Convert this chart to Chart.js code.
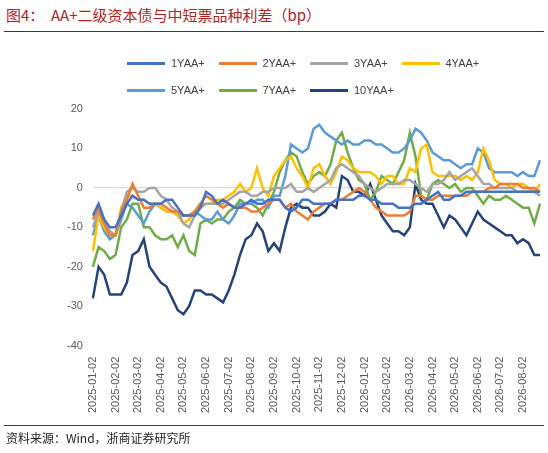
<!DOCTYPE html>
<html><head><meta charset="utf-8">
<script src="https://cdn.jsdelivr.net/npm/chart.js@4"></script>
<style>
body{margin:0;width:548px;height:453px;background:#fff;font-family:"Noto Sans CJK SC",sans-serif;position:relative;overflow:hidden}
#title{position:absolute;left:6px;top:4px;font-size:15px;color:#B22222;}
#tl{position:absolute;left:4px;right:4px;top:31px;border-top:1.5px solid #C00000}
#bl{position:absolute;left:4px;right:4px;top:425px;border-top:1.5px solid #C00000}
#src{position:absolute;left:6px;top:429px;font-size:12px;color:#222}
#c{position:absolute;left:0;top:0}
.lg{position:absolute;font:11px "Liberation Sans",Arial,sans-serif;color:#404040;display:flex;align-items:center}
.lg i{display:inline-block;width:38px;height:3px;margin-right:6px}
</style></head><body>
<div id="title">图4：&nbsp;&nbsp;AA+二级资本债与中短票品种利差（bp）</div>
<div id="tl"></div>
<canvas id="c" width="548" height="453"></canvas>
<div id="legend"></div>
<div id="bl"></div>
<div id="src">资料来源：Wind，浙商证券研究所</div>
<script>
const years=[2025,2026];
const days=['02','09','16','23'];
const yTicks=[-40,-30,-20,-10,0,10,20];
const seriesNames=['1YAA+','2YAA+','3YAA+','4YAA+','5YAA+','7YAA+','10YAA+'];
const seriesColors=['#4472C4','#ED7D31','#A5A5A5','#FFC000','#5B9BD5','#70AD47','#264478'];
const s1Y=[-7,-4,-8,-10,-10,-7,-4,-2,-3,-3,-4,-4,-4,-3,-3,-5,-7,-7,-7,-5,-1,-2,-4,-3,-4,-5,-5,-4,-3,-4,-4,-3,-3,-3,-5,-6,-5,-3,-3,-4,-4,-4,-4,-3,-3,-3,-3,-2,-2,-3,-3,-4,-4,-4,-5,-5,-5,-4,-4,-3,-2,-1,-3,-3,-2,-2,-1,-1,-1,-1,-1,-1,-1,-1,-1,-1,-1,-1,-1,-1];
const s2Y=[-8,-5,-9,-12,-12,-6,-3,1,-2,-5,-5,-4,-4,-5,-6,-6,-7,-7,-6,-4,-2,-3,-4,-5,-4,-5,-5,-5,-6,-6,-5,-4,-3,-3,-5,-4,-6,-7,-8,-6,-5,-4,-4,-3,-3,-2,-1,0,-1,-3,-5,-6,-7,-7,-7,-7,-6,-2,-2,-3,-3,-2,-2,-2,-2,-2,-2,-1,-1,-1,0,0,1,1,1,1,0,0,0,-1];
const s3Y=[-10,-6,-9,-11,-12,-6,-1,0,-1,-1,0,0,-2,-3,-5,-6,-9,-10,-7,-5,-4,-4,-4,-4,-3,-2,-1,-1,-2,-2,-1,-1,0,0,0,1,-1,-1,0,-1,0,1,2,5,6,5,4,3,1,0,-1,0,1,1,1,2,2,1,0,-1,1,1,2,4,2,3,4,5,3,1,1,0,0,0,0,-1,-1,-1,-1,-2];
const s4Y=[-16,-7,-10,-12,-12,-5,-2,-2,-3,-3,-4,-4,-5,-6,-6,-7,-9,-8,-6,-4,-4,-4,-3,-3,-2,-1,1,-1,0,5,0,-2,3,5,7,8,5,3,0,5,6,3,1,4,8,7,5,4,4,4,3,1,3,3,1,1,5,4,10,11,4,3,3,3,3,2,3,2,4,10,7,2,1,1,0,1,1,0,-1,1];
const s5Y=[-12,-7,-11,-13,-12,-8,-4,-5,-7,-9,-6,-4,-5,-6,-6,-7,-7,-7,-6,-7,-8,-8,-6,-8,-9,-7,-4,-4,-4,-3,-3,-5,-2,-2,3,11,10,9,10,15,16,14,13,12,11,12,11,11,12,12,11,11,10,9,9,10,12,15,14,12,9,8,7,7,6,5,6,6,10,9,5,4,4,4,4,3,4,3,3,7];
const s7Y=[-20,-15,-16,-18,-17,-10,-8,-4,-4,-10,-10,-12,-13,-13,-12,-15,-12,-16,-17,-9,-8,-9,-8,-8,-6,-5,-3,-4,-4,-5,-7,-4,-1,4,7,9,8,4,1,3,4,3,6,12,14,9,5,2,1,-3,-1,3,2,1,4,7,14,8,-2,-3,1,2,1,0,1,-1,0,0,-2,-4,-2,-3,-3,-2,-3,-4,-5,-5,-9,-4];
const s10Y=[-28,-20,-22,-27,-27,-27,-24,-17,-16,-13,-20,-22,-24,-25,-28,-31,-32,-30,-26,-26,-27,-27,-28,-29,-26,-22,-17,-13,-12,-9,-11,-16,-14,-16,-10,-5,-4,-5,-5,-7,-7,-6,-4,-5,3,2,-1,-1,-2,1,-3,-7,-9,-11,-11,-12,-10,1,-3,-4,-4,-7,-10,-7,-8,-10,-12,-9,-6,-8,-9,-10,-11,-12,-12,-14,-13,-14,-17,-17];
const values=[s1Y,s2Y,s3Y,s4Y,s5Y,s7Y,s10Y];
const labels=[];
for(const y of years){for(let m=1;m<=12;m++){if(y===2026&&m>8)break;for(const d of days)labels.push(y+'-'+String(m).padStart(2,'0')+'-'+d);}}
const lg=document.getElementById('legend');
seriesNames.forEach((n,i)=>{const d=document.createElement('div');d.className='lg';
d.style.left=(127+(i%4)*91.5)+'px';d.style.top=(i<4?57:84)+'px';
d.innerHTML='<i style="background:'+seriesColors[i]+'"></i>'+n;lg.appendChild(d);});
new Chart(document.getElementById('c'),{type:'line',
data:{labels,datasets:seriesNames.map((n,i)=>({label:n,data:values[i],borderColor:seriesColors[i],borderWidth:2.5,pointRadius:0,tension:0,fill:false}))},
options:{responsive:false,animation:false,
layout:{padding:{top:109,bottom:37,left:57,right:8}},
plugins:{legend:{display:false},tooltip:{enabled:false}},
scales:{
x:{offset:false,grid:{display:false},border:{display:false},
ticks:{autoSkip:false,maxRotation:90,minRotation:90,color:'#595959',font:{family:'Liberation Sans',size:11},
callback:function(v,i){const l=labels[i];return l.endsWith('-02')?l:null;}}},
y:{min:-40,max:20,afterBuildTicks:a=>{a.ticks=yTicks.map(v=>({value:v}));},
border:{display:false},
grid:{color:c=>c.tick&&c.tick.value===0?'#D9D9D9':'rgba(0,0,0,0)',lineWidth:1.2,drawTicks:false},
ticks:{padding:10,color:'#595959',font:{family:'Liberation Sans',size:11}}}
}}});
</script>
</body></html>
